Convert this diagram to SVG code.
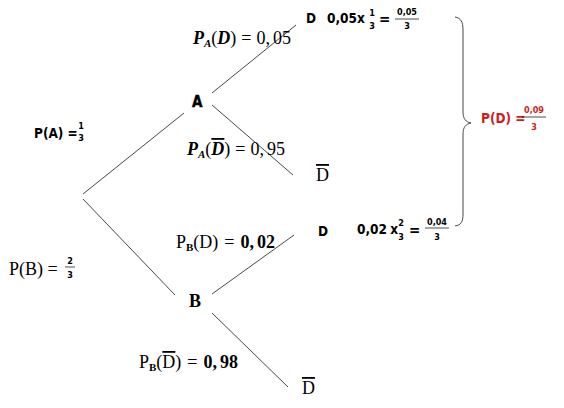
<svg xmlns="http://www.w3.org/2000/svg" width="564" height="408" viewBox="0 0 564 408">
<style>
.ln{stroke:#484848;stroke-width:1;fill:none}
.sans{font-family:"DejaVu Sans Condensed","DejaVu Sans",Verdana,sans-serif;font-weight:bold;fill:#000}
.lab{font-size:13.5px}
.fr{font-size:9px;text-anchor:middle}
.ser{font-family:"Liberation Serif","Times New Roman",serif;fill:#000;font-size:18px}
.bi{font-weight:bold;font-style:italic}
.b{font-weight:bold}
.sub{font-size:11px}
.ov{text-decoration:overline}
.bar{stroke:#000;stroke-width:0.7}
.red{fill:#d01c1c}
</style>
<rect width="564" height="408" fill="#fff"/>
<g id="connectors">
<line class="ln" x1="83" y1="194" x2="184" y2="113"/>
<line class="ln" x1="83" y1="199" x2="175" y2="295"/>
<line class="ln" x1="212" y1="93" x2="296" y2="25"/>
<line class="ln" x1="212" y1="105" x2="293" y2="175"/>
<line class="ln" x1="212" y1="294" x2="294" y2="235"/>
<line class="ln" x1="212" y1="313" x2="288" y2="387"/>
<path class="ln" d="M455,17 C461,18 463,22 463,30 L463,112 C463,119 466,122 471,123 C466,124 463,127 463,134 L463,214 C463,222 461,225 455,226"/>
</g>
<g id="node-A"><text class="sans" x="192" y="107" font-size="15" font-weight="normal" stroke="#000" stroke-width="0.4">A</text></g>
<g id="node-B"><text class="ser b" x="189" y="307" font-size="17">B</text></g>
<g id="node-D1"><text class="sans lab" x="306" y="23">D</text></g>
<g id="node-Dbar1"><text class="ser" x="316" y="181" font-size="17"><tspan class="ov">D</tspan></text></g>
<g id="node-D2"><text class="sans lab" x="318" y="236">D</text></g>
<g id="node-Dbar2"><text class="ser" x="302" y="394" font-size="17"><tspan class="ov">D</tspan></text></g>
<g id="label-PA">
<text class="sans lab" x="34" y="138">P(A) =</text>
<text class="sans fr" x="81" y="129">1</text>
<text class="sans fr" x="81" y="141">3</text>
</g>
<g id="label-PB">
<text class="ser" x="9" y="275">P(B) =</text>
<text class="sans fr" x="70" y="264">2</text>
<line class="bar" x1="65" y1="267" x2="75" y2="267"/>
<text class="sans fr" x="70" y="278">3</text>
</g>
<g id="label-PAD">
<text class="ser" x="193" y="44"><tspan class="bi">P</tspan><tspan class="bi sub" dy="3">A</tspan><tspan dy="-3">(</tspan><tspan class="bi">D</tspan><tspan>)</tspan><tspan dx="5">=</tspan><tspan dx="5">0,</tspan><tspan dx="3">05</tspan></text>
</g>
<g id="label-PADbar">
<text class="ser" x="187" y="155"><tspan class="bi">P</tspan><tspan class="bi sub" dy="3">A</tspan><tspan dy="-3">(</tspan><tspan class="bi ov">D</tspan><tspan>)</tspan><tspan dx="5">=</tspan><tspan dx="5">0,</tspan><tspan dx="3">95</tspan></text>
</g>
<g id="label-PBD">
<text class="ser" x="176" y="248"><tspan>P</tspan><tspan class="b sub" dy="3">B</tspan><tspan dy="-3">(D)</tspan><tspan dx="6">=</tspan><tspan class="b" dx="6">0,</tspan><tspan class="b" dx="3">02</tspan></text>
</g>
<g id="label-PBDbar">
<text class="ser" x="139" y="368"><tspan>P</tspan><tspan class="b sub" dy="3">B</tspan><tspan dy="-3">(</tspan><tspan class="ov">D</tspan><tspan>)</tspan><tspan dx="6">=</tspan><tspan class="b" dx="6">0,</tspan><tspan class="b" dx="3">98</tspan></text>
</g>
<g id="calc-D1">
<text class="sans lab" x="327" y="23">0,05x</text>
<text class="sans fr" x="372" y="16">1</text>
<text class="sans fr" x="372" y="29">3</text>
<text class="sans" x="379" y="24" font-size="15" font-weight="normal">=</text>
<text class="sans fr" x="407" y="15">0,05</text>
<line class="bar" x1="395" y1="19" x2="419" y2="19"/>
<text class="sans fr" x="407" y="29">3</text>
</g>
<g id="calc-D2">
<text class="sans" x="357" y="234" font-size="13.5">0,02<tspan dx="-1"> x</tspan></text>
<text class="sans fr" x="401" y="226">2</text>
<text class="sans fr" x="401" y="240">3</text>
<text class="sans" x="409" y="235" font-size="15" font-weight="normal">=</text>
<text class="sans fr" x="437" y="225">0,04</text>
<line class="bar" x1="425" y1="228" x2="449" y2="228"/>
<text class="sans fr" x="437" y="240">3</text>
</g>
<g id="result-PD">
<text class="sans lab red" x="481" y="123">P(D) =</text>
<text class="sans fr red" x="534" y="113">0,09</text>
<line class="bar" x1="522" y1="117" x2="546" y2="117" stroke="#d01c1c"/>
<text class="sans fr red" x="534" y="130">3</text>
</g>
</svg>
